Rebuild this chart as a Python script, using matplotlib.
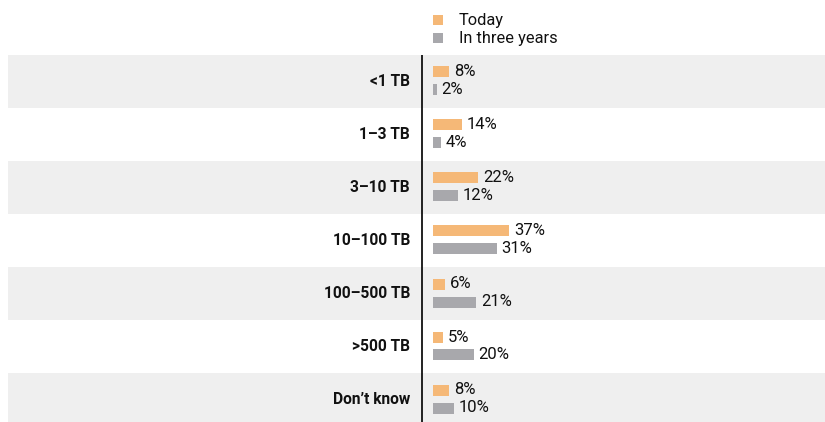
import matplotlib
matplotlib.use("Agg")
import matplotlib.pyplot as plt
from matplotlib.patches import Rectangle

categories = ["<1 TB", "1\u20133 TB", "3\u201310 TB", "10\u2013100 TB",
              "100\u2013500 TB", ">500 TB", "Don\u2019t know"]
today = [8, 14, 22, 37, 6, 5, 8]
three_years = [2, 4, 12, 31, 21, 20, 10]
series_names = ["Today", "In three years"]

ORANGE = "#f5b877"
GREY = "#a8a8ac"
BAND = "#efefef"
FONT = ["Roboto", "DejaVu Sans"]

W, H = 825, 422
PX = 2.06          # pixels per percent
X0 = 433           # pixel of 0%
ROW = 53.0         # pixel height of a row
TOP = 55.0         # pixel top of first row

fig = plt.figure(figsize=(W / 100, H / 100), dpi=100)
ax = fig.add_axes([0, 0, 1, 1])
ax.set_xlim(-X0 / PX, (W - X0) / PX)
ax.set_ylim(len(categories) - 0.5 + (H - TOP - ROW * len(categories)) / ROW,
            -0.5 - TOP / ROW)
ax.axis("off")

x_left = (8 - X0) / PX
x_right = (W - X0) / PX
for i, cat in enumerate(categories):
    if i % 2 == 0:
        ax.add_patch(Rectangle((x_left, i - 0.5), x_right - x_left, 1.0,
                               facecolor=BAND, edgecolor="none", zorder=0))
    ax.text((410 - X0) / PX, i, cat, ha="right", va="center",
            fontsize=11.2, fontweight="bold", family=FONT, color="#111111")

ys = range(len(categories))
bh = 11 / ROW
ax.barh([y - 9.5 / ROW for y in ys], today, height=bh, color=ORANGE, zorder=2)
ax.barh([y + 8.5 / ROW for y in ys], three_years, height=bh, color=GREY, zorder=2)
for y, a, b in zip(ys, today, three_years):
    ax.text(a + 2.2, y - 9.5 / ROW, f"{a}%", va="center", ha="left",
            fontsize=12, family=FONT, color="#111111")
    ax.text(b + 2.2, y + 8.5 / ROW, f"{b}%", va="center", ha="left",
            fontsize=12, family=FONT, color="#111111")

# axis line
ax.plot([(422 - X0) / PX] * 2, [-0.5, len(categories)], color="#111111",
        lw=1.3, zorder=3, solid_capstyle="butt")

# legend
for k, (name, col) in enumerate(zip(series_names, [ORANGE, GREY])):
    yc = 20 + 18 * k
    fig.patches.append(Rectangle(((433) / W, 1 - (yc + 4.5) / H), 10 / W, 9 / H,
                                 facecolor=col, edgecolor="none",
                                 transform=fig.transFigure))
    fig.text(459 / W, 1 - yc / H, name, ha="left", va="center",
             fontsize=11.8, family=FONT, color="#111111")

fig.savefig("out.png", dpi=100)
